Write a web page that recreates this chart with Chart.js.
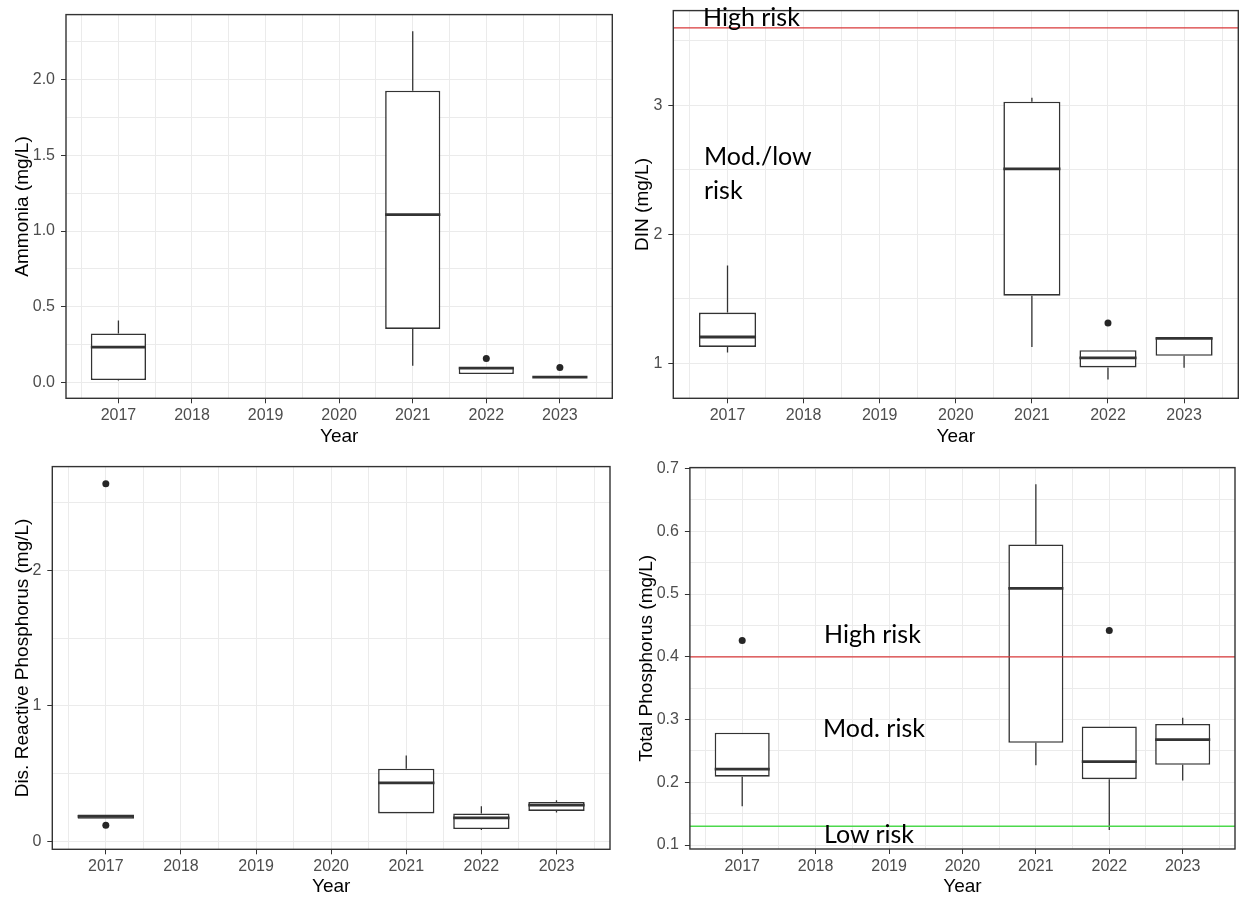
<!DOCTYPE html>
<html>
<head>
<meta charset="utf-8">
<script src="https://cdn.jsdelivr.net/npm/chart.js@4.4.1/dist/chart.umd.min.js"></script>
<style>
  html, body { margin: 0; padding: 0; background: #fff; }
  body { width: 1239px; height: 897px; position: relative; overflow: hidden; }
  canvas { position: absolute; }
  .note { position: absolute; font-family: Lato, "Open Sans", sans-serif; font-size: 25px;
          line-height: 30px; color: #000; white-space: nowrap; }
</style>
</head>
<body>
<canvas id="nh3"></canvas>
<canvas id="din"></canvas>
<canvas id="drp"></canvas>
<canvas id="tp"></canvas>

<div class="note" style="left:703px; top:1px;">High risk</div>
<div class="note" style="left:704px; top:139px; line-height:33.6px;">Mod./low<br>risk</div>
<div class="note" style="left:824px; top:618px;">High risk</div>
<div class="note" style="left:823px; top:712px;">Mod. risk</div>
<div class="note" style="left:824px; top:818px;">Low risk</div>

<script>
// sampling years that have data
var years = [2017, 2021, 2022, 2023];

// Ammonia (mg/L): whisker low, q1, median, q3, whisker high
var nh3Low    = [0.015, 0.112, 0.057, 0.037];
var nh3Q1     = [0.018, 0.355, 0.057, 0.037];
var nh3Median = [0.235, 1.108, 0.097, 0.037];
var nh3Q3     = [0.325, 1.925, 0.101, 0.037];
var nh3High   = [0.410, 2.317, 0.101, 0.037];
var nh3OutYears = [2022, 2023];
var nh3OutVals  = [0.160, 0.101];

// DIN (mg/L)
var dinLow    = [1.085, 1.128, 0.876, 0.966];
var dinQ1     = [1.128, 1.525, 0.969, 1.059];
var dinMedian = [1.205, 2.508, 1.043, 1.195];
var dinQ3     = [1.394, 3.028, 1.103, 1.201];
var dinHigh   = [1.759, 3.059, 1.103, 1.201];
var dinOutYears = [2022];
var dinOutVals  = [1.314];

// Dis. reactive phosphorus (mg/L)
var drpLow    = [0.169, 0.208, 0.086, 0.216];
var drpQ1     = [0.169, 0.208, 0.093, 0.227];
var drpMedian = [0.186, 0.433, 0.176, 0.269];
var drpQ3     = [0.201, 0.538, 0.208, 0.293];
var drpHigh   = [0.201, 0.636, 0.262, 0.306];
var drpOutYears = [2017, 2017];
var drpOutVals  = [2.637, 0.122];

// Total phosphorus (mg/L)
var tpLow    = [0.162, 0.227, 0.124, 0.203];
var tpQ1     = [0.209, 0.263, 0.205, 0.228];
var tpMedian = [0.221, 0.509, 0.233, 0.268];
var tpQ3     = [0.279, 0.579, 0.289, 0.293];
var tpHigh   = [0.279, 0.675, 0.289, 0.303];
var tpOutYears = [2017, 2022];
var tpOutVals  = [0.426, 0.442];

// risk thresholds
var dinHighRisk = 3.6;
var tpHighRisk = 0.4;
var tpLowRisk = 0.13;

// axis limits
var xLimits = [2016.2875, 2023.7125];
var nh3Limits = [-0.1025, 2.427];
var dinLimits = [0.730, 3.734];
var drpLimits = [-0.056, 2.764];
var tpLimits  = [0.0937, 0.7016];

function isMajor(v, step) {
  var r = v / step;
  return Math.abs(r - Math.round(r)) < 1e-6;
}

// median bars, threshold lines and the panel frame
var boxExtras = {
  id: 'boxExtras',
  afterDatasetsDraw: function (chart, args, opts) {
    var ctx = chart.ctx, area = chart.chartArea, ys = chart.scales.y;
    ctx.save();
    ctx.beginPath();
    ctx.rect(area.left, area.top, area.right - area.left, area.bottom - area.top);
    ctx.clip();
    chart.getDatasetMeta(0).data.forEach(function (bar, i) {
      var py = ys.getPixelForValue(opts.medians[i]);
      ctx.strokeStyle = '#333';
      ctx.lineWidth = 2.8;
      ctx.beginPath();
      ctx.moveTo(bar.x - bar.width / 2, py);
      ctx.lineTo(bar.x + bar.width / 2, py);
      ctx.stroke();
    });
    (opts.lines || []).forEach(function (l) {
      var py = ys.getPixelForValue(l.value);
      ctx.strokeStyle = l.color;
      ctx.lineWidth = 1.4;
      ctx.beginPath();
      ctx.moveTo(area.left, py);
      ctx.lineTo(area.right, py);
      ctx.stroke();
    });
    ctx.restore();
  },
  afterDraw: function (chart) {
    var ctx = chart.ctx, a = chart.chartArea;
    ctx.save();
    ctx.strokeStyle = '#333';
    ctx.lineWidth = 1.4;
    ctx.strokeRect(a.left, a.top, a.right - a.left, a.bottom - a.top);
    ctx.restore();
  }
};

function makeChart(id, frame, s) {
  var canvas = document.getElementById(id);
  var left = Math.round(frame.yTitleX - 15.4);
  var top = Math.round(frame.t - 14);
  var bottom = Math.round(frame.xTitleY + 15.4);
  var right = Math.round(frame.r + 14);
  canvas.width = right - left;
  canvas.height = bottom - top;
  canvas.style.left = left + 'px';
  canvas.style.top = top + 'px';
  var yAxisW = frame.l - left;
  var xAxisH = bottom - frame.b;

  var boxes = [], whiskers = [], outliers = [];
  for (var i = 0; i < years.length; i++) {
    boxes.push({ x: years[i], y: [s.q1[i], s.q3[i]] });
    whiskers.push({ x: years[i], y: s.q3[i] }, { x: years[i], y: s.high[i] }, { x: years[i], y: null });
    whiskers.push({ x: years[i], y: s.low[i] }, { x: years[i], y: s.q1[i] }, { x: years[i], y: null });
  }
  for (var j = 0; j < s.outYears.length; j++) {
    outliers.push({ x: s.outYears[j], y: s.outVals[j] });
  }

  var tickFont = { family: '"Liberation Sans", Arial, sans-serif', size: 16 };
  var titleFont = { family: '"Liberation Sans", Arial, sans-serif', size: 19 };

  return new Chart(canvas, {
    type: 'bar',
    data: {
      datasets: [{
        data: boxes,
        backgroundColor: '#fff',
        borderColor: '#333',
        borderWidth: 1.6,
        borderSkipped: false,
        barPercentage: 1.5,
        categoryPercentage: 1
      }, {
        type: 'line',
        data: whiskers,
        borderColor: '#333',
        borderWidth: 1.3,
        pointRadius: 0,
        spanGaps: false
      }, {
        type: 'line',
        data: outliers,
        showLine: false,
        pointRadius: 3.5,
        pointBackgroundColor: '#262626',
        pointBorderWidth: 0
      }]
    },
    options: {
      responsive: false,
      animation: false,
      events: [],
      layout: { padding: { top: frame.t - top, right: right - frame.r, left: 0, bottom: 0 } },
      plugins: {
        legend: { display: false },
        tooltip: { enabled: false },
        boxExtras: { medians: s.median, lines: s.lines }
      },
      scales: {
        x: {
          type: 'linear',
          min: xLimits[0],
          max: xLimits[1],
          offset: false,
          afterFit: function (sc) { sc.height = xAxisH; },
          border: { display: false },
          grid: {
            offset: false,
            color: '#ebebeb',
            lineWidth: 1,
            tickLength: 5,
            tickColor: function (c) { return c.tick && isMajor(c.tick.value, 1) ? '#333' : 'rgba(0,0,0,0)'; }
          },
          ticks: {
            stepSize: 0.5,
            includeBounds: false,
            autoSkip: false,
            maxRotation: 0,
            maxTicksLimit: 100,
            padding: 3,
            color: '#4d4d4d',
            font: tickFont,
            callback: function (v) { return isMajor(v, 1) ? String(Math.round(v)) : ''; }
          },
          title: { display: true, text: 'Year', color: '#000', font: titleFont }
        },
        y: {
          min: s.limits[0],
          max: s.limits[1],
          afterFit: function (sc) { sc.width = yAxisW; },
          border: { display: false },
          grid: {
            color: '#ebebeb',
            lineWidth: 1,
            tickLength: 5,
            tickColor: function (c) { return c.tick && isMajor(c.tick.value, s.major) ? '#333' : 'rgba(0,0,0,0)'; }
          },
          ticks: {
            stepSize: s.step,
            includeBounds: false,
            maxTicksLimit: 100,
            autoSkip: false,
            padding: 6,
            color: '#4d4d4d',
            font: tickFont,
            callback: function (v) { return isMajor(v, s.major) ? s.fmt(v) : ''; }
          },
          title: { display: true, text: s.title, color: '#000', font: titleFont }
        }
      }
    },
    plugins: [boxExtras]
  });
}

function oneDecimal(v) { return v.toFixed(1); }
function whole(v) { return String(Math.round(v)); }

makeChart('nh3', { l: 66, t: 13.3, r: 612.3, b: 398.3, yTitleX: 22, xTitleY: 436.7 }, {
  low: nh3Low, q1: nh3Q1, median: nh3Median, q3: nh3Q3, high: nh3High,
  outYears: nh3OutYears, outVals: nh3OutVals, limits: nh3Limits,
  step: 0.25, major: 0.5, fmt: oneDecimal, title: 'Ammonia (mg/L)', lines: []
});

makeChart('din', { l: 673.3, t: 9.3, r: 1238.3, b: 398.3, yTitleX: 642.7, xTitleY: 436.7 }, {
  low: dinLow, q1: dinQ1, median: dinMedian, q3: dinQ3, high: dinHigh,
  outYears: dinOutYears, outVals: dinOutVals, limits: dinLimits,
  step: 0.5, major: 1, fmt: whole, title: 'DIN (mg/L)',
  lines: [{ value: dinHighRisk, color: '#d9383a' }]
});

makeChart('drp', { l: 52.3, t: 465, r: 610, b: 849.3, yTitleX: 22, xTitleY: 886.7 }, {
  low: drpLow, q1: drpQ1, median: drpMedian, q3: drpQ3, high: drpHigh,
  outYears: drpOutYears, outVals: drpOutVals, limits: drpLimits,
  step: 0.5, major: 1, fmt: whole, title: 'Dis. Reactive Phosphorus (mg/L)', lines: []
});

makeChart('tp', { l: 689.9, t: 465.7, r: 1235, b: 849, yTitleX: 646.7, xTitleY: 886.7 }, {
  low: tpLow, q1: tpQ1, median: tpMedian, q3: tpQ3, high: tpHigh,
  outYears: tpOutYears, outVals: tpOutVals, limits: tpLimits,
  step: 0.05, major: 0.1, fmt: oneDecimal, title: 'Total Phosphorus (mg/L)',
  lines: [{ value: tpHighRisk, color: '#d9383a' }, { value: tpLowRisk, color: '#4cd94c' }]
});
</script>
</body>
</html>
